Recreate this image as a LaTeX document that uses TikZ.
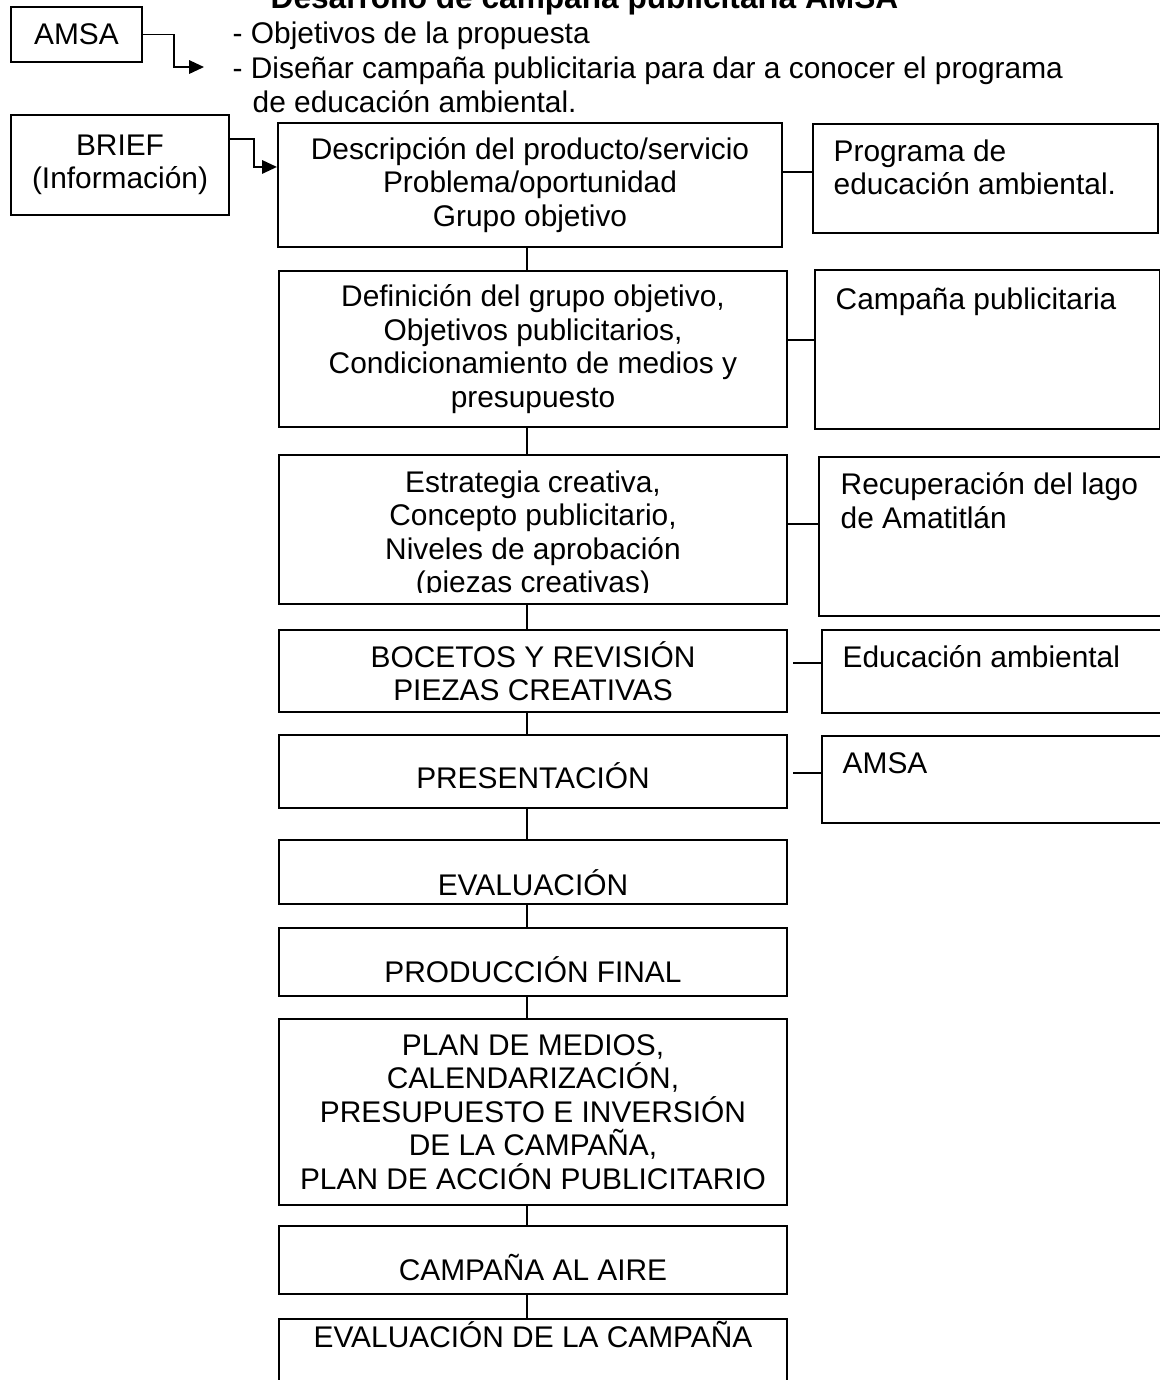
\documentclass[tikz,border=0pt]{standalone}
\usepackage{fontspec}
\setmainfont{Liberation Sans}
\usetikzlibrary{positioning,calc,arrows.meta}

\begin{document}
\begin{tikzpicture}[
    x=0.1mm, y=-0.1mm,
    >={Triangle[length=4.2pt,width=3.8pt]},
    every node/.style={font=\fontsize{8.5}{9.5}\selectfont, inner sep=0pt},
    stage/.style={draw, line width=0.6pt, minimum width=50.8mm, align=center},
    side/.style={draw, line width=0.6pt, anchor=north west},
    link/.style={line width=0.5pt},
    sunk/.style={text height=#1, text depth=0pt}
  ]

    \useasboundingbox (0,0) rectangle (1160,1380);

    % Heading and objectives ---------------------------------------
    \node[anchor=base west, font=\fontsize{9}{10}\selectfont\bfseries] (title) at (270,8)
      {Desarrollo de campaña publicitaria AMSA};
    \node[draw, line width=0.6pt, minimum width=13.1mm, minimum height=5.5mm] (amsa) at (76.5,34.5) {AMSA};
    \node[anchor=base west] (obj1) at (232,43) {- Objetivos de la propuesta};
    \node[anchor=base west] (obj2) at (232,78) {- Diseñar campaña publicitaria para dar a conocer el programa};
    \node[anchor=base west] (obj3) at (252,112.5) {de educación ambiental.};
    \coordinate (amsatip) at (204,67);
    \draw[link,->] (amsa.east) -- ++(31,0) |- (amsatip);

    % Brief ---------------------------------------------------------
    \node[draw, line width=0.6pt, minimum width=21.8mm, minimum height=10mm, align=center] (brief) at (120,165)
      {BRIEF\\(Información)};

    % Main column ---------------------------------------------------
    \node[stage, minimum width=50.4mm, minimum height=12.4mm] (b1) at (530,185)
      {Descripción del producto/servicio\\Problema/oportunidad\\Grupo objetivo};
    \node[stage, minimum height=15.6mm] (b2) at (533,349)
      {Definición del grupo objetivo,\\Objetivos publicitarios,\\Condicionamiento de medios y\\presupuesto};
    \node[stage, minimum height=14.9mm] (b3) at (533,529.5) {};
    \begin{scope}
      \clip (281,457) rectangle (785,592);
      \node[below=1.6mm of b3.north, align=center] (b3text)
        {Estrategia creativa,\\Concepto publicitario,\\Niveles de aprobación\\(piezas creativas)};
    \end{scope}
    \node[stage, minimum height=8.2mm] (b4) at (533,671) {BOCETOS Y REVISIÓN\\PIEZAS CREATIVAS};
    \node[stage, minimum height=7.3mm, sunk=9.4pt] (b5) at (533,771.5) {PRESENTACIÓN};
    \node[stage, minimum height=6.4mm, sunk=13.1pt] (b6) at (533,872) {EVALUACIÓN};
    \node[stage, minimum height=6.8mm, sunk=11.4pt] (b7) at (533,962) {PRODUCCIÓN FINAL};
    \node[stage, minimum height=18.6mm] (b8) at (533,1112)
      {PLAN DE MEDIOS,\\CALENDARIZACIÓN,\\PRESUPUESTO E INVERSIÓN\\DE LA CAMPAÑA,\\PLAN DE ACCIÓN PUBLICITARIO};
    \node[stage, minimum height=6.8mm, sunk=11.9pt] (b9) at (533,1260) {CAMPAÑA AL AIRE};
    \node[stage, minimum height=8.1mm, text height=6.5pt, text depth=13.6pt] (b10) at (533,1359.5)
      {EVALUACIÓN DE LA CAMPAÑA};

    \coordinate (spine) at (527,0);
    \foreach \a/\b in {b1/b2,b2/b3,b3/b4,b4/b5,b5/b6,b6/b7,b7/b8,b8/b9,b9/b10}
      \draw[link] (\a.south -| spine) -- (\b.north -| spine);

    % Brief arrow
    \coordinate (brieftip) at ($(b1.north west)+(0,45)$);
    \draw[link,->] ($(brief.north east)+(0,25)$) -- ++(24,0) |- (brieftip);

    % Side notes ----------------------------------------------------
    \node[side, minimum width=34.5mm, minimum height=10.9mm] (r1) at (812,123) {};
    \node[below right=1.6mm and 2.1mm of r1.north west, align=left] (r1text) {Programa de\\educación ambiental.};
    \node[side, minimum width=34.5mm, minimum height=15.9mm] (r2) at (814,269) {};
    \node[below right=1.8mm and 2.1mm of r2.north west] (r2text) {Campaña publicitaria};
    \node[side, minimum width=34.2mm, minimum height=15.9mm] (r3) at (818,456) {};
    \node[below right=1.6mm and 2.2mm of r3.north west, align=left] (r3text) {Recuperación del lago\\de Amatitlán};
    \node[side, minimum width=34.0mm, minimum height=8.3mm] (r4) at (821,629) {};
    \node[below right=1.6mm and 2.1mm of r4.north west] (r4text) {Educación ambiental};
    \node[side, minimum width=34.0mm, minimum height=8.7mm] (r5) at (821,735) {};
    \node[below right=1.7mm and 2.1mm of r5.north west] (r5text) {AMSA};

    \foreach \r/\b/\d/\g in {r1/b1/49/0, r2/b2/71/0, r3/b3/68/0, r4/b4/34/0.5, r5/b5/38/0.5}{
      \coordinate (k\r) at ($(\r.north west)+(0,\d)$);
      \draw[link, shorten >=\g mm] (k\r) -- (k\r -| \b.east);
    }

  \end{tikzpicture}
\end{document}
